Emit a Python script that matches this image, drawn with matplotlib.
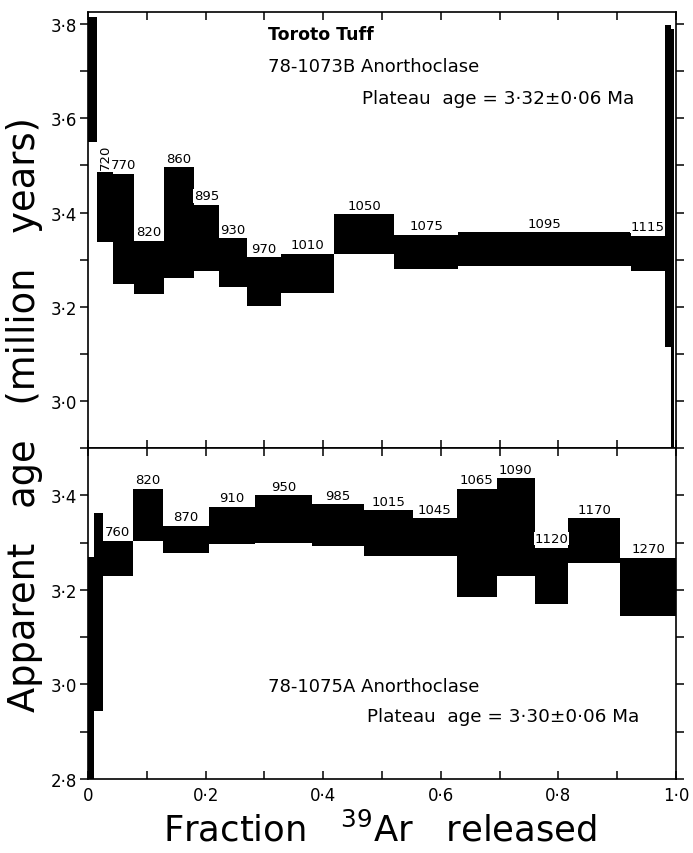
import numpy as np
import matplotlib
matplotlib.use('Agg')
import matplotlib.pyplot as plt
from matplotlib.ticker import FixedLocator, FuncFormatter

# step edges (fraction 39Ar released), lower/upper age (Ma) and temperature labels

# 78-1073B anorthoclase (top panel)
top_edges = [0, 0.015, 0.043, 0.078, 0.129, 0.180, 0.223, 0.270, 0.329,
             0.419, 0.520, 0.630, 0.923, 0.981, 0.991, 0.997]
top_low = [3.549, 3.338, 3.249, 3.228, 3.262, 3.275, 3.243, 3.201, 3.230,
           3.311, 3.280, 3.286, 3.275, 3.115, 2.880]
top_high = [3.815, 3.487, 3.482, 3.340, 3.496, 3.416, 3.345, 3.305, 3.313,
            3.396, 3.353, 3.358, 3.351, 3.798, 3.790]
top_temps = ['', '720', '770', '820', '860', '895', '930', '970', '1010',
             '1050', '1075', '1095', '1115', '', '']

# 78-1075A anorthoclase (bottom panel)
bot_edges = [0, 0.011, 0.026, 0.076, 0.128, 0.205, 0.284, 0.381, 0.470,
             0.553, 0.627, 0.695, 0.760, 0.817, 0.905, 1.0]
bot_low = [2.780, 2.944, 3.230, 3.303, 3.279, 3.298, 3.300, 3.293, 3.272,
           3.272, 3.185, 3.230, 3.171, 3.256, 3.144]
bot_high = [3.269, 3.363, 3.303, 3.414, 3.335, 3.376, 3.400, 3.381, 3.368,
            3.351, 3.414, 3.436, 3.289, 3.351, 3.267]
bot_temps = ['', '', '760', '820', '870', '910', '950', '985', '1015',
             '1045', '1065', '1090', '1120', '1170', '1270']

plt.rcParams['font.family'] = 'DejaVu Sans'


def dot_fmt(v, pos):
    if abs(v) < 1e-9:
        return '0'
    return f'{v:.1f}'.replace('.', '\u00b7')


def draw_spectrum(ax, edges, low, high, temps, rotate_first=None):
    edges = np.array(edges)
    low = np.array(low)
    high = np.array(high)
    ax.bar(edges[:-1], high - low, width=np.diff(edges), bottom=low,
           align='edge', color='black', linewidth=0)
    for i, t in enumerate(temps):
        if not t:
            continue
        xc = (edges[i] + edges[i + 1]) / 2
        rot = 90 if t == rotate_first else 0
        ax.annotate(t, (xc, high[i]), xytext=(0, 2), textcoords='offset points',
                    ha='center', va='bottom', fontsize=9.5, rotation=rot,
                    bbox=dict(facecolor='white', edgecolor='none', pad=0.3))


def style_axes(ax, ymin, ymax, major_y, minor_y):
    ax.set_xlim(0, 1.0)
    ax.set_ylim(ymin, ymax)
    ax.xaxis.set_major_locator(FixedLocator(np.round(np.arange(0, 1.01, 0.2), 1)))
    ax.xaxis.set_minor_locator(FixedLocator(np.round(np.arange(0.1, 1.0, 0.2), 1)))
    ax.yaxis.set_major_locator(FixedLocator(major_y))
    ax.yaxis.set_minor_locator(FixedLocator(minor_y))
    ax.xaxis.set_major_formatter(FuncFormatter(dot_fmt))
    ax.yaxis.set_major_formatter(FuncFormatter(dot_fmt))
    ax.tick_params(axis='x', which='both', direction='in', top=True, bottom=True,
                   length=6, width=1.1, labelsize=12, pad=5)
    ax.tick_params(axis='y', which='both', direction='out', left=True, right=True,
                   length=6, width=1.1, labelsize=12, pad=2)
    for s in ax.spines.values():
        s.set_linewidth(1.2)


fig = plt.figure(figsize=(6.93, 8.54), dpi=100)
ax1 = fig.add_axes([0.127, 0.4742, 0.8485, 0.5106])
ax2 = fig.add_axes([0.127, 0.0867, 0.8485, 0.3875])

draw_spectrum(ax1, top_edges, top_low, top_high, top_temps, rotate_first='720')
style_axes(ax1, 2.9, 3.826, [3.0, 3.2, 3.4, 3.6, 3.8], [2.9, 3.1, 3.3, 3.5, 3.7])
ax1.tick_params(axis='x', labelbottom=False)

draw_spectrum(ax2, bot_edges, bot_low, bot_high, bot_temps)
style_axes(ax2, 2.8, 3.5, [2.8, 3.0, 3.2, 3.4], [2.9, 3.1, 3.3])

ax1.text(0.306, 0.95, 'Toroto Tuff', transform=ax1.transAxes, fontsize=12.5,
         fontweight='bold', va='center', ha='left')
ax1.text(0.306, 0.876, '78-1073B Anorthoclase', transform=ax1.transAxes,
         fontsize=13, va='center', ha='left')
ax1.text(0.466, 0.803, 'Plateau  age = 3\u00b732\u00b10\u00b706 Ma',
         transform=ax1.transAxes, fontsize=13.2, va='center', ha='left')

ax2.text(0.306, 0.281, '78-1075A Anorthoclase', transform=ax2.transAxes,
         fontsize=13, va='center', ha='left')
ax2.text(0.4745, 0.190, 'Plateau  age = 3\u00b730\u00b10\u00b706 Ma',
         transform=ax2.transAxes, fontsize=13.2, va='center', ha='left')

fig.text(0.036, 0.514, 'Apparent   age   (million   years)', rotation=90,
         fontsize=26.5, ha='center', va='center')
fig.text(0.548, 0.028, 'Fraction   $^{39}$Ar   released', fontsize=25.5,
         ha='center', va='center')

fig.savefig('out.png', dpi=100)
